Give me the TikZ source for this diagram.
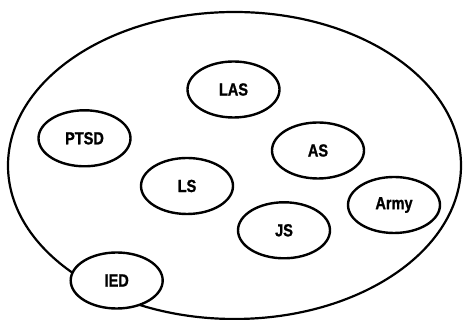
\documentclass[tikz,border=0pt]{standalone}
\usepackage{fontspec}
\setmainfont[FakeStretch=0.83,BoldFeatures={FakeBold=1.2}]{Liberation Sans}
\usetikzlibrary{shapes.geometric}
\begin{document}
\begin{tikzpicture}[x=1pt,y=1pt,
  term/.style={ellipse, draw=black, line width=2.4pt, fill=white, inner sep=0pt,
    minimum width=92pt, minimum height=56pt,
    font=\fontsize{17.5}{20}\selectfont\bfseries}]
\useasboundingbox (0,0) rectangle (463,320);
\draw[line width=2.2pt] (234.5,154.5) ellipse [x radius=226.5, y radius=153.5];
\node[term] (las) at (233.5,230.5) {LAS};
\node[term] (ptsd) at (84.5,181.7) {PTSD};
\node[term] (as) at (318,169.5) {AS};
\node[term] (ls) at (187,134) {LS};
\node[term] (army) at (394,115) {Army};
\node[term] (js) at (284,89.7) {JS};
\node[term] (ied) at (116.7,39.5) {IED};
\end{tikzpicture}
\end{document}
